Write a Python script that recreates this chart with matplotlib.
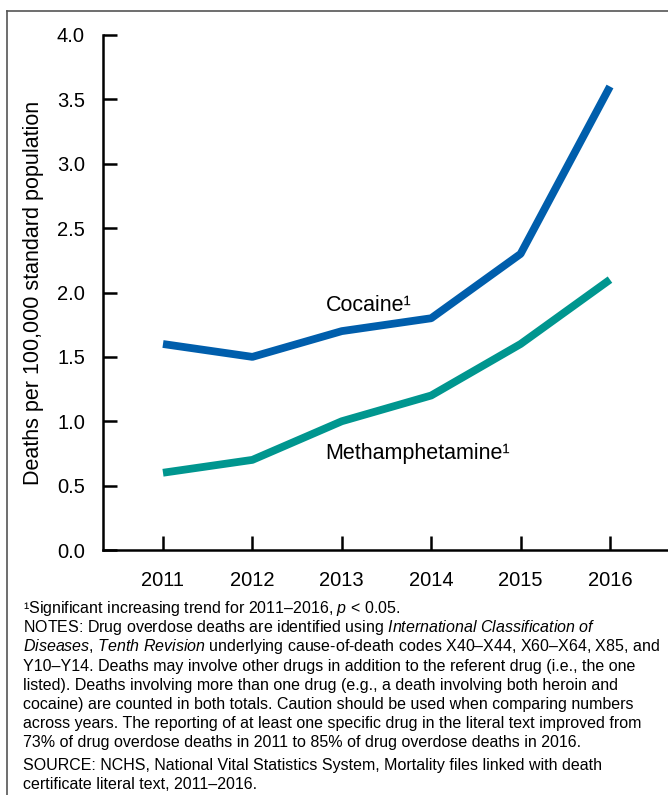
import matplotlib
matplotlib.use('Agg')
import matplotlib.pyplot as plt
from matplotlib.lines import Line2D

plt.rcParams['font.family'] = ['Liberation Sans', 'DejaVu Sans']
plt.rcParams['mathtext.fontset'] = 'custom'
plt.rcParams['mathtext.rm'] = 'Liberation Sans'
plt.rcParams['mathtext.it'] = 'Liberation Sans:italic'

# data
years = [2011, 2012, 2013, 2014, 2015, 2016]
cocaine = [1.6, 1.5, 1.7, 1.8, 2.3, 3.6]
meth = [0.6, 0.7, 1.0, 1.2, 1.6, 2.1]
yticks = [0.0, 0.5, 1.0, 1.5, 2.0, 2.5, 3.0, 3.5, 4.0]

notes = [
    "¹Significant increasing trend for 2011–2016, $\\mathit{p}$ < 0.05.",
    "NOTES: Drug overdose deaths are identified using $\\mathit{International\\ Classification\\ of}$",
    "$\\mathit{Diseases{,}\\ Tenth\\ Revision}$ underlying cause-of-death codes X40–X44, X60–X64, X85, and",
    "Y10–Y14. Deaths may involve other drugs in addition to the referent drug (i.e., the one",
    "listed). Deaths involving more than one drug (e.g., a death involving both heroin and",
    "cocaine) are counted in both totals. Caution should be used when comparing numbers",
    "across years. The reporting of at least one specific drug in the literal text improved from",
    "73% of drug overdose deaths in 2011 to 85% of drug overdose deaths in 2016.",
]
source = [
    "SOURCE: NCHS, National Vital Statistics System, Mortality files linked with death",
    "certificate literal text, 2011–2016.",
]

W, H = 668, 795
fig = plt.figure(figsize=(W / 100, H / 100), dpi=100)
ax = fig.add_axes([103 / W, 245 / H, 1 - 103 / W, 515 / H])

ax.plot(years, cocaine, color='#005eac', lw=5.6, solid_capstyle='butt')
ax.plot(years, meth, color='#00968f', lw=5.6, solid_capstyle='butt')

ax.text(2012.82, 1.856, 'Cocaine¹', fontsize=15.5, va='baseline')
ax.text(2012.82, 0.71, 'Methamphetamine¹', fontsize=15.5, va='baseline')

ax.set_xlim(2010.329, 2016.649)
ax.set_ylim(0, 4.0)
ax.set_xticks(years)
ax.set_yticks(yticks)
ax.set_yticklabels([f'{v:.1f}' for v in yticks])
for s in ['top', 'right']:
    ax.spines[s].set_visible(False)
for s in ['left', 'bottom']:
    ax.spines[s].set_linewidth(1.8)
ax.tick_params(axis='both', direction='in', length=10, width=1.8, labelsize=14.5)
ax.tick_params(axis='y', pad=13)
ax.tick_params(axis='x', pad=15)
ax.set_ylabel('Deaths per 100,000 standard population', fontsize=15.5, labelpad=9)

# frame around the figure (top and left edges visible)
fig.add_artist(Line2D([7 / W, 1], [1 - 11 / H] * 2, transform=fig.transFigure,
                      color='#555555', lw=1.2))
fig.add_artist(Line2D([7 / W] * 2, [0, 1 - 11 / H], transform=fig.transFigure,
                      color='#555555', lw=1.2))

y = 613
for line in notes:
    fig.text(23 / W, 1 - y / H, line, fontsize=11.5, va='baseline')
    y += 19.2
y += 3.5
for line in source:
    fig.text(23 / W, 1 - y / H, line, fontsize=11.5, va='baseline')
    y += 19.2

fig.savefig('out.png', dpi=100)
